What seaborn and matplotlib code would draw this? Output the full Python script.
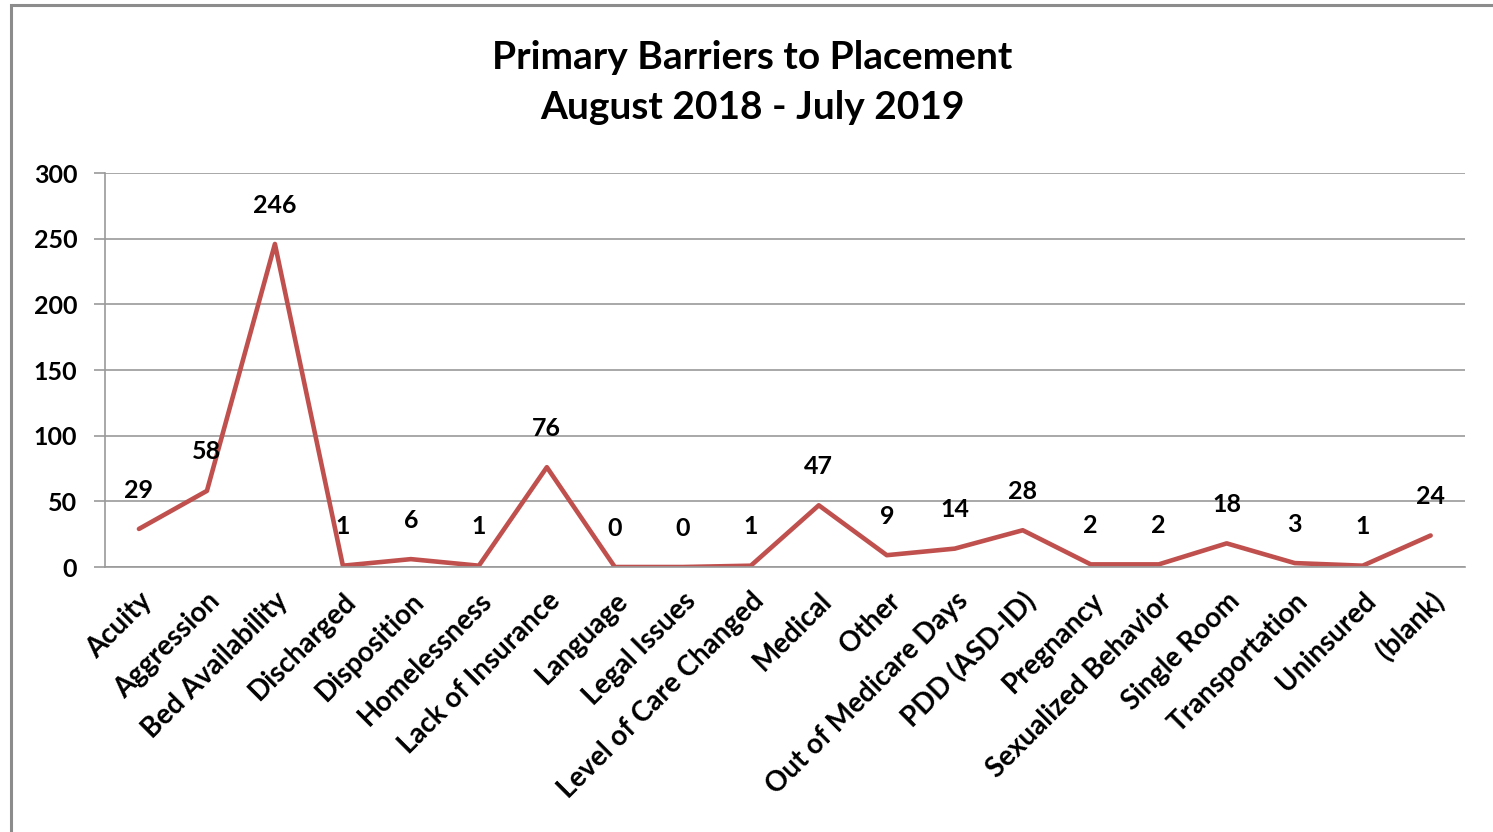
import matplotlib
matplotlib.use("Agg")
import matplotlib.pyplot as plt
import seaborn as sns
import pandas as pd
import numpy as np

# datos
categorias = ["Acuity", "Aggression", "Bed Availability", "Discharged", "Disposition",
              "Homelessness", "Lack of Insurance", "Language", "Legal Issues",
              "Level of Care Changed", "Medical", "Other", "Out of Medicare Days",
              "PDD (ASD-ID)", "Pregnancy", "Sexualized Behavior", "Single Room",
              "Transportation", "Uninsured", "(blank)"]
valores = [29, 58, 246, 1, 6, 1, 76, 0, 0, 1, 47, 9, 14, 28, 2, 2, 18, 3, 1, 24]
y_ticks = [0, 50, 100, 150, 200, 250, 300]

df = pd.DataFrame({"Barrera": categorias, "Total": valores})
df["pos"] = np.arange(len(df))

sns.set_theme(style="white")
plt.rcParams["font.family"] = ["Lato", "DejaVu Sans"]
plt.rcParams["text.color"] = "black"
plt.rcParams["xtick.color"] = "black"
plt.rcParams["ytick.color"] = "black"

fig = plt.figure(figsize=(14.93, 8.32), dpi=100)
ax = fig.add_axes([0.0703, 0.3185, 0.9107, 0.4735])

sns.lineplot(data=df, x="pos", y="Total", ax=ax, color="#C0504D", linewidth=3.3)

# etiquetas de datos
for x, v in zip(df["pos"], df["Total"]):
    ax.annotate(str(v), (x, v), xytext=(0, 28), textcoords="offset points",
                ha="center", va="center", fontsize=18, fontweight="bold", color="black")

ax.set_xlim(-0.5, len(categorias) - 0.5)
ax.set_ylim(0, 300)
ax.set_yticks(y_ticks)
ax.set_yticklabels([str(t) for t in y_ticks], fontsize=18, fontweight="bold")
ax.yaxis.grid(True, color="#9A9A9A", linewidth=1.2)
ax.set_axisbelow(True)

ax.set_xticks(df["pos"])
ax.set_xticklabels(categorias, rotation=45, ha="right", rotation_mode="anchor",
                   fontsize=20, fontweight="bold")
ax.tick_params(axis="x", which="major", length=0, pad=15)
ax.set_xticks(np.arange(-0.5, len(categorias), 1), minor=True)
ax.tick_params(axis="x", which="minor", length=8, color="#9A9A9A", width=1.2)
ax.tick_params(axis="y", length=8, color="#9A9A9A", labelcolor="black", width=1.2,
               pad=12, direction="out", left=True)

for s in ["top", "right"]:
    ax.spines[s].set_visible(False)
ax.spines["left"].set_color("#9A9A9A")
ax.spines["bottom"].set_color("#9A9A9A")
ax.spines["left"].set_linewidth(1.2)
ax.spines["bottom"].set_linewidth(1.2)
ax.set_xlabel("")
ax.set_ylabel("")

fig.text(0.504, 0.931, "Primary Barriers to Placement", ha="center", va="center",
         fontsize=28, fontweight="bold")
fig.text(0.504, 0.871, "August 2018 - July 2019", ha="center", va="center",
         fontsize=28, fontweight="bold")

# marco gris del grafico
marco = plt.Rectangle((0.0074, -0.05), 1.1, 1.044, transform=fig.transFigure,
                      fill=False, edgecolor="#8C8C8C", linewidth=2.2)
fig.add_artist(marco)

fig.savefig("out.png", dpi=100)
